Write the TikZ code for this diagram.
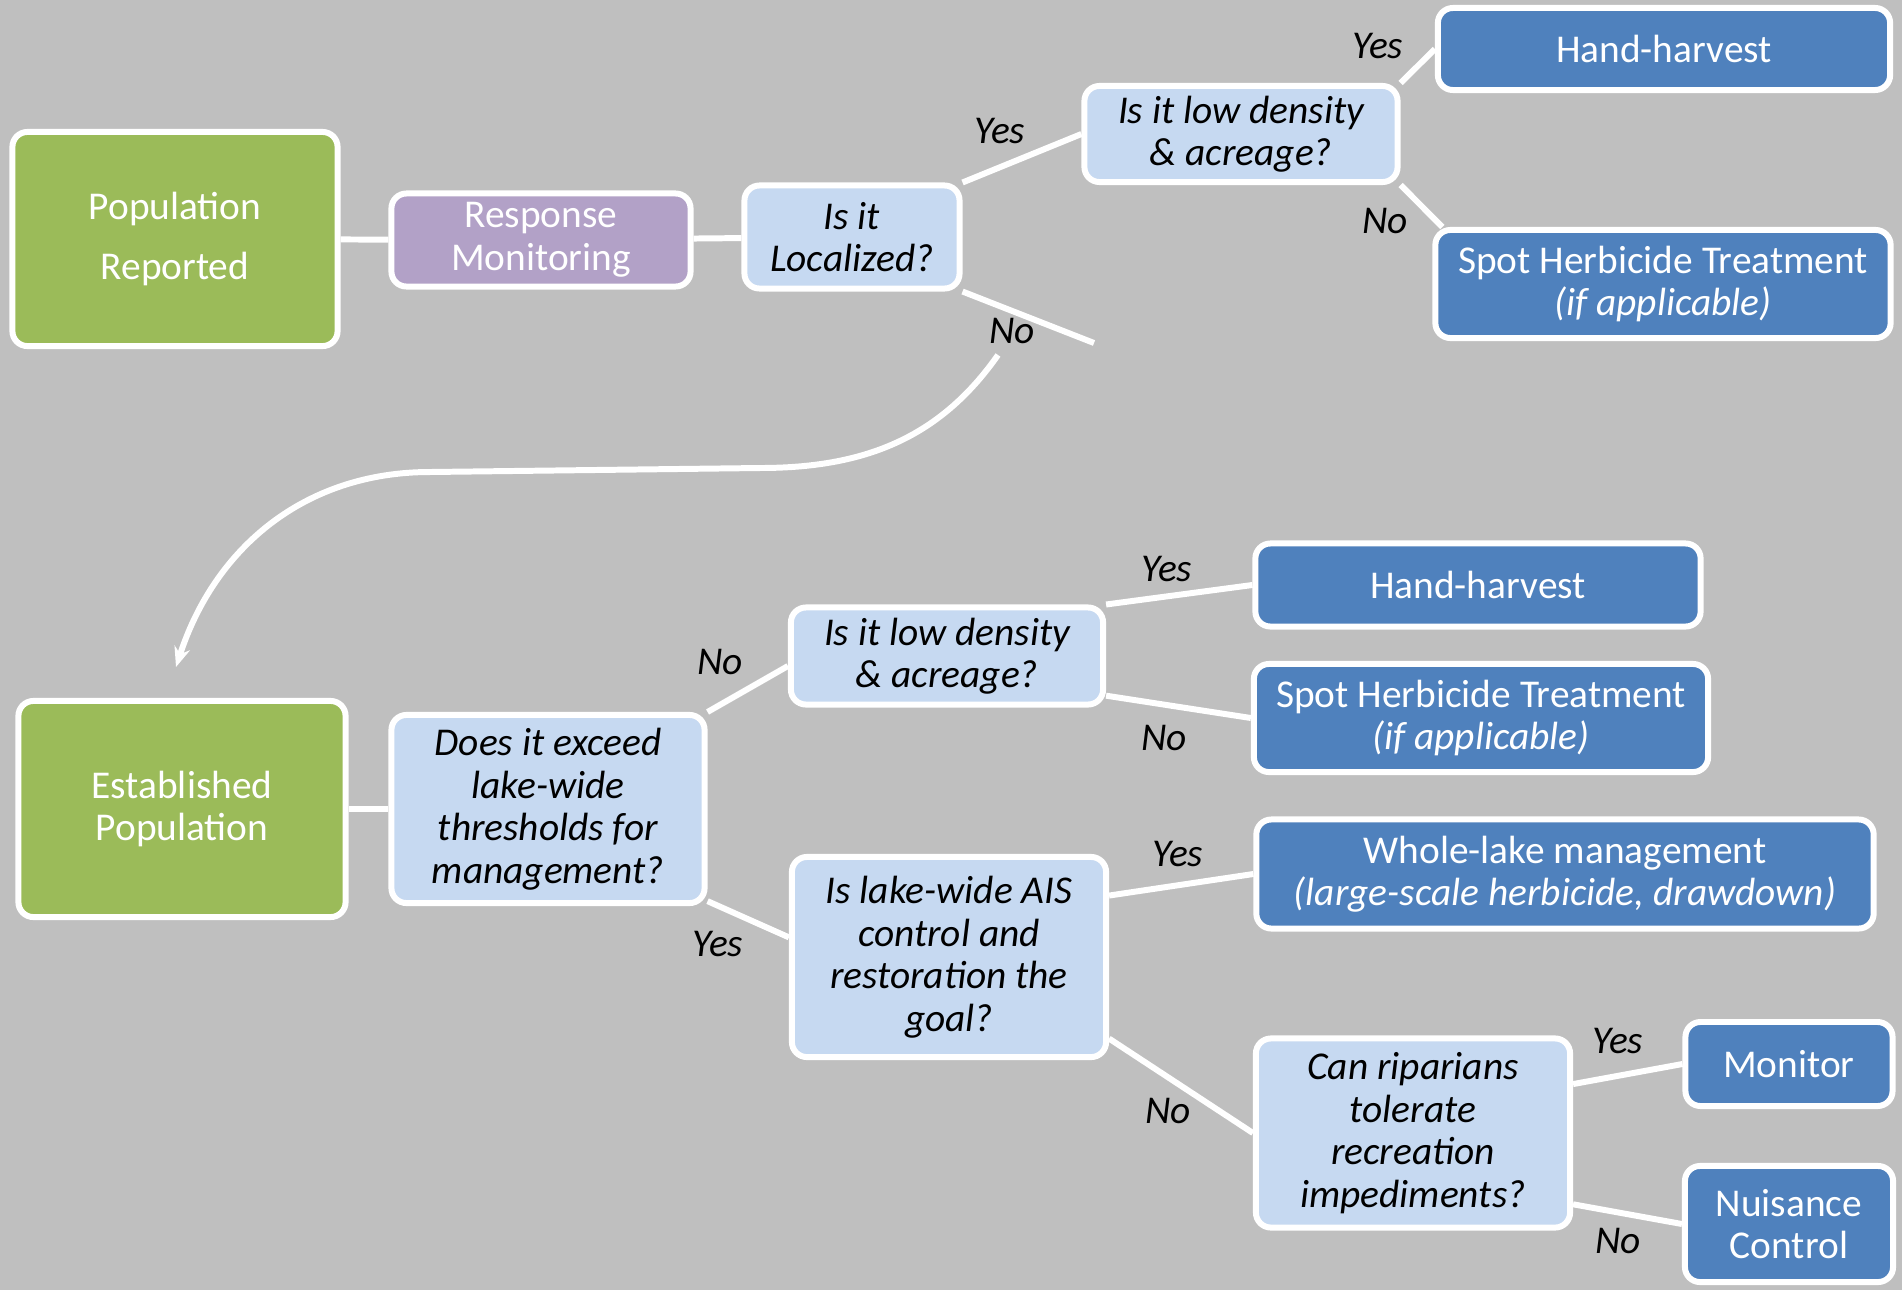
\documentclass[tikz,border=0pt]{standalone}
\usepackage{fontspec}
\setmainfont{Carlito}
\usetikzlibrary{arrows.meta}
\definecolor{bggray}{HTML}{BFBFBF}
\definecolor{stagegreen}{HTML}{9BBB59}
\definecolor{monpurple}{HTML}{B2A1C7}
\definecolor{qblue}{HTML}{C6D9F1}
\definecolor{actblue}{HTML}{4F81BD}

\begin{document}
\begin{tikzpicture}[x=0.01cm, y=-0.01cm]
			\tikzstyle{box}=[draw=white, line width=1.7pt, rounded corners=0.15cm, align=center, inner sep=2pt, font=\fontsize{11.2}{12.1}\selectfont]
			\tikzstyle{stage}=[box, fill=stagegreen, text=white]
			\tikzstyle{watch}=[box, fill=monpurple, text=white]
			\tikzstyle{question}=[box, fill=qblue, text=black, font=\fontsize{11.2}{12.1}\selectfont\itshape]
			\tikzstyle{action}=[box, fill=actblue, text=white]
			\tikzstyle{conn}=[draw=white, line width=1.7pt]
			\tikzstyle{answer}=[inner sep=0pt, font=\fontsize{11.2}{12.1}\selectfont\itshape]

			\useasboundingbox (0,0) rectangle (1902,1290);
			\fill[bggray] (0,0) rectangle (1902,1290);

			% top branch
			\node[stage, minimum width=3.25cm, minimum height=2.14cm, font=\fontsize{11.2}{17}\selectfont] (reported) at (175,239) {Population\\Reported};
			\node[watch, minimum width=2.99cm, minimum height=0.93cm] (monitoring) at (541,240) {Response\\Monitoring};
			\node[question, minimum width=2.15cm, minimum height=1.03cm] (localized) at (852,237) {Is it\\Localized?};
			\node[question, minimum width=3.13cm, minimum height=0.96cm] (density1) at (1241,134) {Is it low density\\\& acreage?};
			\node[action, minimum width=4.52cm, minimum height=0.82cm] (harvest1) at (1664,49) {Hand-harvest};
			\node[action, minimum width=4.55cm, minimum height=1.08cm] (spot1) at (1663,284) {Spot Herbicide Treatment\\\textit{(if applicable)}};

			% bottom branch
			\node[stage, minimum width=3.27cm, minimum height=2.16cm] (established) at (182,809) {Established\\Population};
			\node[question, minimum width=3.13cm, minimum height=1.88cm] (exceed) at (548,809) {Does it exceed\\lake-wide\\thresholds for\\management?};
			\node[question, minimum width=3.12cm, minimum height=0.97cm] (density2) at (947,656) {Is it low density\\\& acreage?};
			\node[action, minimum width=4.45cm, minimum height=0.83cm] (harvest2) at (1478,585) {Hand-harvest};
			\node[action, minimum width=4.54cm, minimum height=1.08cm] (spot2) at (1481,718) {Spot Herbicide Treatment\\\textit{(if applicable)}};
			\node[question, minimum width=3.14cm, minimum height=2.00cm] (goal) at (949,957) {Is lake-wide AIS\\control and\\restoration the\\goal?};
			\node[action, minimum width=6.17cm, minimum height=1.09cm] (wholelake) at (1565,874) {Whole-lake management\\\textit{(large-scale herbicide, drawdown)}};
			\node[question, minimum width=3.14cm, minimum height=1.89cm] (riparians) at (1413,1133) {Can riparians\\tolerate\\recreation\\impediments?};
			\node[action, minimum width=2.07cm, minimum height=0.84cm] (monitor) at (1789,1064) {Monitor};
			\node[action, minimum width=2.08cm, minimum height=1.16cm] (nuisance) at (1789,1224) {Nuisance\\Control};

			\coordinate (noend) at (1094,343);
			\coordinate (curvestart) at (998,355);
			\coordinate (flat1) at (760,468);
			\coordinate (flat2) at (430,472);
			\coordinate (curveend) at (176,667);

			\draw[conn] (reported) -- (monitoring);
			\draw[conn] (monitoring) -- (localized);
			\draw[conn] (localized.north east) -- (density1.west);
			\draw[conn] (localized.south east) -- (noend);
			\draw[conn] (density1.north east) -- (harvest1.west);
			\draw[conn] (density1.south east) -- ([xshift=0.1cm]spot1.north west);
			\draw[conn, -{Stealth[length=0.2cm, width=0.16cm]}] (curvestart) to[out=-125, in=0] (flat1) to (flat2) to[out=180, in=72] (curveend);

			\draw[conn] (established) -- (exceed);
			\draw[conn] (exceed.north east) -- ([yshift=-0.1cm]density2.west);
			\draw[conn] (exceed.-30) -- (goal.173);
			\draw[conn] (density2.north east) -- (harvest2.west);
			\draw[conn] (density2.-14) -- (spot2.west);
			\draw[conn] (goal.21) -- (wholelake.west);
			\draw[conn] (goal.-27) -- (riparians.west);
			\draw[conn] (riparians.17) -- (monitor.west);
			\draw[conn] (riparians.-24) -- (nuisance.west);

			% yes / no labels
			\node[answer] (yesA) at (1000,131) {Yes};
			\node[answer] (noA) at (1012,331) {No};
			\node[answer] (yesB) at (1378,46) {Yes};
			\node[answer] (noB) at (1385,221) {No};
			\node[answer] (noC) at (720,662) {No};
			\node[answer] (yesC) at (718,944) {Yes};
			\node[answer] (yesD) at (1167,569) {Yes};
			\node[answer] (noD) at (1164,738) {No};
			\node[answer] (yesE) at (1178,854) {Yes};
			\node[answer] (noE) at (1168,1111) {No};
			\node[answer] (yesF) at (1618,1041) {Yes};
			\node[answer] (noF) at (1618,1241) {No};
		\end{tikzpicture}
\end{document}
